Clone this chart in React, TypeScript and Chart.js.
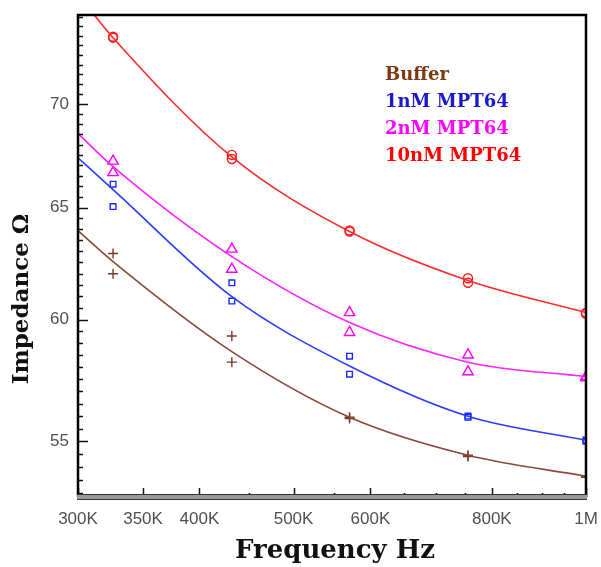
import React, { useEffect, useRef } from 'react';
import { Chart, registerables } from 'chart.js';

Chart.register(...registerables);

// ---- data ----
const freqs = [326000, 432000, 571000, 756000, 1000000];
const fitFreqs = [300000, 326000, 432000, 571000, 756000, 1000000];

const bufferRunA = [62.9, 59.3, 55.95, 54.45, 53.64];
const bufferRunB = [62.0, 58.2, 55.9, 54.4, 53.6];
const nM1RunA = [66.1, 61.6, 58.45, 56.0, 55.05];
const nM1RunB = [65.05, 60.8, 57.7, 55.95, 55.0];
const nM2RunA = [67.2, 63.1, 60.3, 58.5, 57.6];
const nM2RunB = [66.65, 62.2, 59.45, 57.8, 57.55];
const nM10RunA = [73.45, 67.5, 63.95, 61.8, 60.3];
const nM10RunB = [73.4, 67.3, 63.9, 61.6, 60.25];

const bufferFit = [63.94, 62.54, 58.64, 55.95, 54.45, 53.64];
const nM1Fit = [67.36, 65.84, 60.99, 58.04, 55.99, 55.04];
const nM2Fit = [68.53, 66.93, 62.76, 59.87, 58.2, 57.6];
const nM10Fit = [75.7, 73.4, 67.4, 63.9, 61.7, 60.3];

const seriesNames = ['Buffer', '1nM MPT64', '2nM MPT64', '10nM MPT64'];

const xMajorTicks = [300000, 350000, 400000, 500000, 600000, 800000, 1000000];
const xTickLabels = ['300K', '350K', '400K', '500K', '600K', '800K', '1M'];
const xMinorTicks = [450000, 550000, 650000, 700000, 750000, 850000, 900000, 950000];
const yMajorTicks = [55, 60, 65, 70];
const yTickLabels = ['55', '60', '65', '70'];
const yMinorTicks = [
  53, 53.5, 54, 54.5, 55.5, 56, 56.5, 57, 57.5, 58, 58.5, 59, 59.5,
  60.5, 61, 61.5, 62, 62.5, 63, 63.5, 64, 64.5, 65.5, 66, 66.5, 67, 67.5,
  68, 68.5, 69, 69.5, 70.5, 71, 71.5, 72, 72.5, 73, 73.5, 74, 74.5,
];

const xTitle = 'Frequency Hz';
const yTitle = 'Impedance Ω';

// ---- styles ----
const colors = {
  buffer: '#8a4a3a',
  nM1: '#2b3cff',
  nM2: '#ff22ff',
  nM10: '#ff2a2a',
};
const legendColors = ['#7a3a14', '#1a1acc', '#ff00ff', '#ff0000'];

const pts = (xs: number[], ys: number[]) => xs.map((x, i) => ({ x, y: ys[i] }));

const fitDs = (label: string, ys: number[], color: string) => ({
  label,
  data: pts(fitFreqs, ys),
  showLine: true,
  borderColor: color,
  borderWidth: 1.6,
  pointRadius: 0,
  cubicInterpolationMode: 'monotone' as const,
  fill: false,
});

const markDs = (label: string, ys: number[], color: string, style: string, r: number) => ({
  label,
  data: pts(freqs, ys),
  showLine: false,
  borderColor: color,
  backgroundColor: 'rgba(0,0,0,0)',
  pointStyle: style,
  pointRadius: r,
  pointBorderWidth: 1.4,
  pointHoverRadius: r,
});

const decorPlugin = {
  id: 'decor',
  afterDatasetsDraw(chart: any) {
    const { ctx, chartArea: a, scales } = chart;
    const x = scales.x;
    const y = scales.y;
    ctx.save();
    // ticks
    ctx.strokeStyle = '#111';
    ctx.lineWidth = 1.5;
    const hLine = (px: number, py: number, len: number) => {
      ctx.beginPath();
      ctx.moveTo(px, py);
      ctx.lineTo(px + len, py);
      ctx.stroke();
    };
    const vLine = (px: number, py: number, len: number) => {
      ctx.beginPath();
      ctx.moveTo(px, py);
      ctx.lineTo(px, py - len);
      ctx.stroke();
    };
    yMajorTicks.forEach((v) => hLine(a.left, Math.round(y.getPixelForValue(v)) + 0.5, 10));
    yMinorTicks.forEach((v) => hLine(a.left, Math.round(y.getPixelForValue(v)) + 0.5, 5));
    xMajorTicks.forEach((v) => vLine(Math.round(x.getPixelForValue(v)) + 0.5, a.bottom, 9));
    xMinorTicks.forEach((v) => vLine(Math.round(x.getPixelForValue(v)) + 0.5, a.bottom, 4));

    // frame
    ctx.strokeStyle = '#000';
    ctx.lineWidth = 2.5;
    ctx.beginPath();
    ctx.moveTo(a.left, a.bottom);
    ctx.lineTo(a.left, a.top);
    ctx.lineTo(a.right, a.top);
    ctx.lineTo(a.right, a.bottom);
    ctx.stroke();
    // bottom band
    ctx.fillStyle = '#9a9a9a';
    ctx.fillRect(a.left - 1, a.bottom - 2, a.right - a.left + 2, 5);
    ctx.strokeStyle = '#333';
    ctx.lineWidth = 1;
    ctx.beginPath();
    ctx.moveTo(a.left - 1, a.bottom - 2.5);
    ctx.lineTo(a.right + 1, a.bottom - 2.5);
    ctx.moveTo(a.left - 1, a.bottom + 2.5);
    ctx.lineTo(a.right + 1, a.bottom + 2.5);
    ctx.stroke();

    // legend
    ctx.font = 'bold 18px "DejaVu Serif"';
    ctx.textAlign = 'left';
    ctx.textBaseline = 'middle';
    const lx = a.left + 307;
    seriesNames.forEach((name, i) => {
      ctx.fillStyle = legendColors[i];
      ctx.fillText(name, lx, a.top + 60 + i * 27);
    });

    // axis titles
    ctx.fillStyle = '#111';
    ctx.font = 'bold 26px "DejaVu Serif"';
    ctx.textAlign = 'center';
    ctx.textBaseline = 'middle';
    ctx.fillText(xTitle, (a.left + a.right) / 2 + 3, 551);
    ctx.font = 'bold 23px "DejaVu Serif"';
    ctx.save();
    ctx.translate(22, 299);
    ctx.rotate(-Math.PI / 2);
    ctx.fillText(yTitle, 0, 0);
    ctx.restore();

    ctx.restore();
  },
};

export default function App() {
  const ref = useRef<HTMLCanvasElement | null>(null);
  useEffect(() => {
    if (!ref.current) return;
    const chart = new Chart(ref.current, {
      type: 'scatter',
      data: {
        datasets: [
          fitDs('Buffer fit', bufferFit, colors.buffer),
          fitDs('1nM fit', nM1Fit, colors.nM1),
          fitDs('2nM fit', nM2Fit, colors.nM2),
          fitDs('10nM fit', nM10Fit, colors.nM10),
          markDs('Buffer A', bufferRunA, '#7a3a2a', 'cross', 5),
          markDs('Buffer B', bufferRunB, '#7a3a2a', 'cross', 5),
          markDs('1nM A', nM1RunA, '#1a2aff', 'rect', 4),
          markDs('1nM B', nM1RunB, '#1a2aff', 'rect', 4),
          markDs('2nM A', nM2RunA, '#ff00ff', 'triangle', 6),
          markDs('2nM B', nM2RunB, '#ff00ff', 'triangle', 6),
          markDs('10nM A', nM10RunA, '#ff1a1a', 'circle', 4.5),
          markDs('10nM B', nM10RunB, '#ff1a1a', 'circle', 4.5),
        ] as any,
      },
      options: {
        responsive: false,
        animation: false,
        events: [],
        layout: { padding: { left: 0, top: 15, right: 15, bottom: 0 } },
        plugins: { legend: { display: false }, tooltip: { enabled: false } },
        scales: {
          x: {
            type: 'logarithmic',
            min: 300000,
            max: 1000000,
            grid: { display: false, drawTicks: false },
            border: { display: false },
            afterBuildTicks: (s: any) => {
              s.ticks = xMajorTicks.map((v) => ({ value: v }));
            },
            afterFit: (s: any) => {
              s.height = 70;
              s.paddingLeft = 0;
              s.paddingRight = 0;
            },
            ticks: {
              autoSkip: false,
              maxRotation: 0,
              padding: 12,
              color: '#505050',
              font: { family: '"Liberation Sans"', size: 17 },
              callback: (v: any) => {
                const i = xMajorTicks.indexOf(Number(v));
                return i >= 0 ? xTickLabels[i] : '';
              },
            },
          },
          y: {
            type: 'logarithmic',
            min: 52.85,
            max: 74.6,
            grid: { display: false, drawTicks: false },
            border: { display: false },
            afterBuildTicks: (s: any) => {
              s.ticks = yMajorTicks.map((v) => ({ value: v }));
            },
            afterFit: (s: any) => {
              s.width = 78;
              s.paddingTop = 0;
              s.paddingBottom = 0;
            },
            ticks: {
              autoSkip: false,
              padding: 9,
              color: '#505050',
              font: { family: '"Liberation Sans"', size: 17 },
              callback: (v: any) => {
                const i = yMajorTicks.indexOf(Number(v));
                return i >= 0 ? yTickLabels[i] : '';
              },
            },
          },
        },
      } as any,
      plugins: [decorPlugin],
    });
    return () => chart.destroy();
  }, []);
  return (
    <div style={{ position: 'fixed', left: 0, top: 0, width: 601, height: 567, background: '#fff' }}>
      <canvas ref={ref} width={601} height={567} style={{ display: 'block' }} />
    </div>
  );
}
